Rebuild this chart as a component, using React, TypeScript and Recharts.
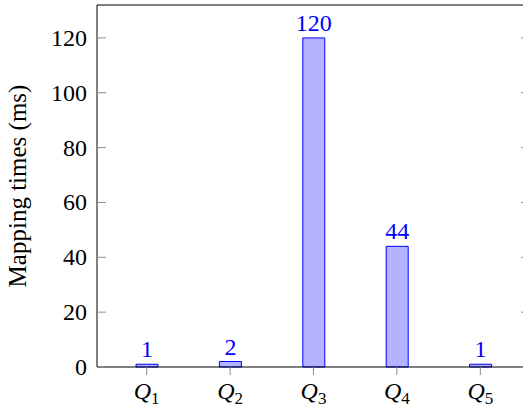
import React from 'react'
import { ComposedChart, Bar, Line, XAxis, YAxis, LabelList } from 'recharts'

const queries = ['1', '2', '3', '4', '5']
const mappingTimes = [1, 2, 120, 44, 1]
const yTicks = [0, 20, 40, 60, 80, 100, 120]

const data = queries.map((q, i) => ({ query: q, time: mappingTimes[i] }))

const serif = 'Liberation Serif, Times New Roman, serif'
const blue = '#0000ff'
const tickGray = '#8c8c8c'

// Q with a subscript index, drawn under each category
const QueryTick = ({ x, y, payload }: any) => (
  <text x={x} y={y + 22} textAnchor="middle" style={{ fontFamily: serif }} fontSize={24} fill="#000">
    <tspan fontStyle="italic">Q</tspan>
    <tspan fontSize={17} dy={5}>{payload.value}</tspan>
  </text>
)

// value label left of the frame plus a short mark pointing into the plot
const LeftTick = ({ x, y, payload }: any) => (
  <g>
    <line x1={x + 10} x2={x + 19} y1={y} y2={y} stroke={tickGray} />
    <text x={x} y={y} dy={8} textAnchor="end" style={{ fontFamily: serif }} fontSize={24} fill="#000">
      {payload.value}
    </text>
  </g>
)

const RightTick = ({ x, y }: any) => (
  <line x1={x - 9} x2={x} y1={y} y2={y} stroke={tickGray} />
)

const App = () => {
  return (
    <div style={{ position: 'absolute', left: 0, top: 0, width: 523, height: 414, overflow: 'hidden', background: '#fff' }}>
      <ComposedChart
        width={523}
        height={414}
        data={data}
        margin={{ top: 0, right: -8, left: 0, bottom: 0 }}
        barCategoryGap={0}
        style={{ fontFamily: serif }}
      >
        <XAxis
          dataKey="query"
          xAxisId="bottom"
          height={47}
          padding={{ left: 8, right: 8 }}
          axisLine={{ stroke: '#000' }}
          tickLine={{ stroke: tickGray }}
          tickSize={8}
          tick={<QueryTick />}
        />
        <XAxis
          dataKey="query"
          xAxisId="top"
          orientation="top"
          height={5}
          padding={{ left: 8, right: 8 }}
          axisLine={{ stroke: '#000' }}
          tickLine={{ stroke: tickGray }}
          tickSize={5}
          tick={false}
        />
        <YAxis
          yAxisId="left"
          width={97}
          domain={[0, 132]}
          ticks={yTicks}
          axisLine={{ stroke: '#000' }}
          tickLine={false}
          tickSize={0}
          tickMargin={10}
          tick={<LeftTick />}
          label={{
            value: 'Mapping times (ms)',
            angle: -90,
            position: 'insideLeft',
            offset: 17,
            style: { fontFamily: serif, fontSize: 25, fill: '#000', textAnchor: 'middle' },
          }}
        />
        <YAxis
          yAxisId="right"
          orientation="right"
          width={1}
          domain={[0, 132]}
          ticks={yTicks}
          axisLine={{ stroke: '#000' }}
          tickLine={false}
          tickSize={0}
          tickMargin={0}
          tick={<RightTick />}
        />
        <Bar
          dataKey="time"
          xAxisId="bottom"
          yAxisId="left"
          barSize={22}
          fill="#b3b3ff"
          stroke={blue}
          strokeWidth={1}
          isAnimationActive={false}
        >
          <LabelList
            dataKey="time"
            position="top"
            offset={7}
            fill={blue}
            style={{ fontFamily: serif, fontSize: 24 }}
          />
        </Bar>
        {/* invisible series so the frame axes get a domain */}
        <Line dataKey="time" xAxisId="top" yAxisId="right" stroke="none" dot={false} activeDot={false} isAnimationActive={false} />
      </ComposedChart>
    </div>
  )
}

export default App
